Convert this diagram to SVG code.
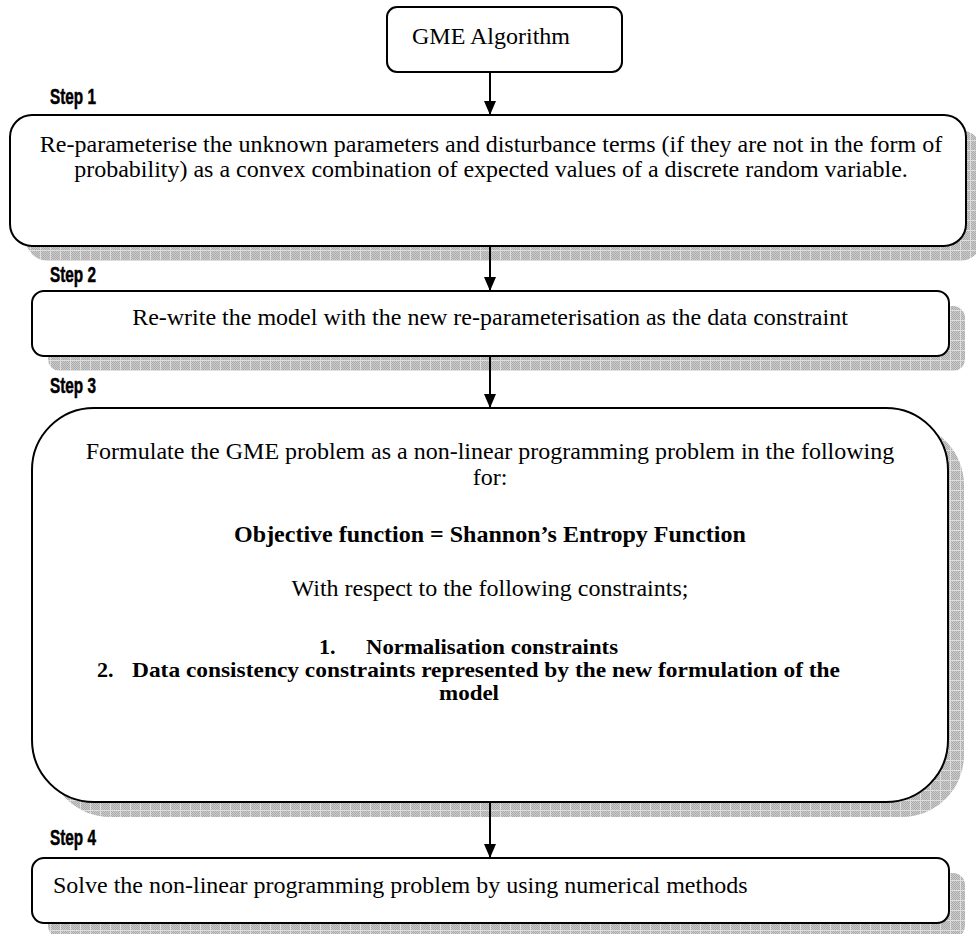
<svg xmlns="http://www.w3.org/2000/svg" width="976" height="934" viewBox="0 0 976 934">
  <defs>
    <style>
      .box { fill: #ffffff; stroke: #000000; stroke-width: 2; }
      .shadow { fill: url(#shadeGrid); stroke: none; }
      .txt { font-family: "Liberation Serif", "Times New Roman", serif; font-size: 24px; fill: #000000; }
      .bold { font-weight: bold; }
      .list { font-size: 22px; }
      .mid { text-anchor: middle; }
      .step { font-family: "Liberation Sans Narrow", "Liberation Sans", Arial, sans-serif; font-weight: bold; font-size: 22px; fill: #000000; stroke: #000000; stroke-width: 0.5; }
      .conn { stroke: #000000; stroke-width: 2; fill: none; marker-end: url(#arrowHead); }
    </style>
    <!-- fine dither used inside the shadow grid -->
    <pattern id="dither" width="2" height="2" patternUnits="userSpaceOnUse">
      <rect width="2" height="2" fill="#cbcbcb"/>
      <rect width="1" height="1" fill="#ababab"/>
      <rect x="1" y="1" width="1" height="1" fill="#ababab"/>
    </pattern>
    <!-- shadow fill: dithered grey with a light grid every 10px -->
    <pattern id="shadeGrid" width="10" height="10" patternUnits="userSpaceOnUse">
      <rect width="10" height="10" fill="url(#dither)"/>
      <rect width="10" height="1" fill="#dedede"/>
      <rect width="1" height="10" fill="#dedede"/>
    </pattern>
    <marker id="arrowHead" viewBox="0 0 14 12" refX="14" refY="6" markerWidth="14" markerHeight="12" markerUnits="userSpaceOnUse" orient="auto">
      <path d="M0,0 L14,6 L0,12 z" fill="#000000"/>
    </marker>
  </defs>

  <!-- Start node -->
  <g id="node-gme">
    <rect class="box" x="387" y="7" width="235" height="65" rx="10" ry="10"/>
    <text class="txt mid" x="491" y="44">GME Algorithm</text>
  </g>

  <!-- Step 1 -->
  <g id="node-step1">
    <text class="step" x="50" y="104" textLength="46" lengthAdjust="spacingAndGlyphs">Step 1</text>
    <rect class="shadow" x="26" y="130" width="956" height="131" rx="22" ry="22"/>
    <rect class="box" x="10" y="115" width="956" height="131" rx="22" ry="22"/>
    <text class="txt mid" x="491" y="152">Re-parameterise the unknown parameters and disturbance terms (if they are not in the form of</text>
    <text class="txt mid" x="491" y="177">probability) as a convex combination of expected values of a discrete random variable.</text>
  </g>

  <!-- Step 2 -->
  <g id="node-step2">
    <text class="step" x="50" y="282" textLength="46" lengthAdjust="spacingAndGlyphs">Step 2</text>
    <rect class="shadow" x="48" y="306" width="917" height="65" rx="12" ry="12"/>
    <rect class="box" x="32" y="291" width="917" height="65" rx="12" ry="12"/>
    <text class="txt mid" x="490" y="325">Re-write the model with the new re-parameterisation as the data constraint</text>
  </g>

  <!-- Step 3 -->
  <g id="node-step3">
    <text class="step" x="50" y="393" textLength="46" lengthAdjust="spacingAndGlyphs">Step 3</text>
    <rect class="shadow" x="48" y="423" width="916" height="394" rx="62" ry="62"/>
    <rect class="box" x="32" y="408" width="916" height="394" rx="62" ry="62"/>
    <text class="txt mid" x="490" y="459">Formulate the GME problem as a non-linear programming problem in the following</text>
    <text class="txt mid" x="490" y="485">for:</text>
    <text class="txt bold mid" x="490" y="542">Objective function = Shannon’s Entropy Function</text>
    <text class="txt mid" x="490" y="596">With respect to the following constraints;</text>
    <!-- numbered constraint list -->
    <text class="txt bold list" x="319" y="654">1.</text>
    <text class="txt bold list" x="366" y="654" textLength="252" lengthAdjust="spacingAndGlyphs">Normalisation constraints</text>
    <text class="txt bold list" x="97" y="677">2.</text>
    <text class="txt bold list" x="132" y="677" textLength="708" lengthAdjust="spacingAndGlyphs">Data consistency constraints represented by the new formulation of the</text>
    <text class="txt bold list" x="439" y="700" textLength="60" lengthAdjust="spacingAndGlyphs">model</text>
  </g>

  <!-- Step 4 -->
  <g id="node-step4">
    <text class="step" x="50" y="845" textLength="46" lengthAdjust="spacingAndGlyphs">Step 4</text>
    <rect class="shadow" x="48" y="873" width="917" height="65" rx="12" ry="12"/>
    <rect class="box" x="32" y="858" width="917" height="65" rx="12" ry="12"/>
    <text class="txt" x="53" y="893">Solve the non-linear programming problem by using numerical methods</text>
  </g>

  <!-- Connectors -->
  <g id="connectors">
    <line class="conn" x1="490" y1="72" x2="490" y2="115"/>
    <line class="conn" x1="490" y1="246" x2="490" y2="291"/>
    <line class="conn" x1="490" y1="356" x2="490" y2="408"/>
    <line class="conn" x1="490" y1="802" x2="490" y2="858"/>
  </g>
</svg>
